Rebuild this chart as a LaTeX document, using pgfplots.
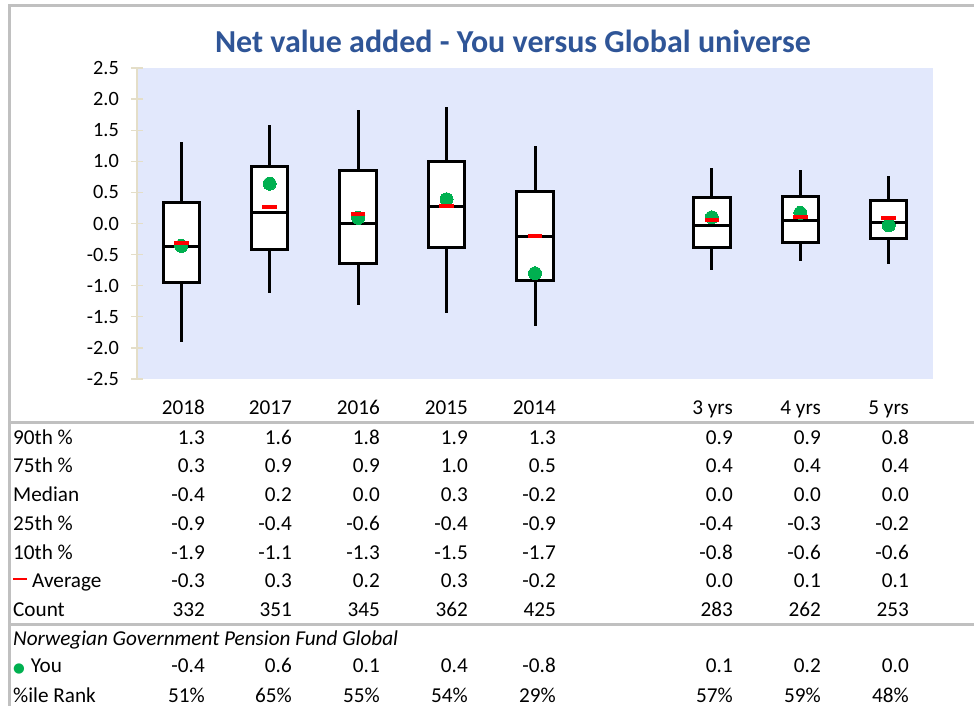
\documentclass[border=0pt]{standalone}
\usepackage{fontspec}
\setmainfont{Carlito}
\newfontfamily\dejavu{DejaVu Sans}
\usepackage{pgfplots}
\usepackage{pgfplotstable}
\usepgfplotslibrary{statistics}
\pgfplotsset{compat=1.18}

\definecolor{titleblue}{RGB}{47,85,151}
\definecolor{plotbg}{RGB}{226,232,252}
\definecolor{axbeige}{RGB}{228,222,200}
\definecolor{bordergray}{RGB}{192,192,192}
\definecolor{yougreen}{RGB}{0,176,80}

\pgfplotstableread{
pos avg you
0 -0.32 -0.36
1 0.27 0.64
2 0.16 0.09
3 0.28 0.39
4 -0.20 -0.80
6 0.05 0.10
7 0.11 0.17
8 0.09 -0.03
}\pointdata

% position, 10th, 25th, median, 75th, 90th
\newcommand{\boxplotitem}[7]{%
  \addplot[draw=black, #7, line width=3pt, line join=miter,
    boxplot prepared={draw position=#1, lower whisker=#2, lower quartile=#3,
      median=#4, upper quartile=#5, upper whisker=#6,
      box extend=0.41, whisker extend=0}] coordinates {};}

\newcommand{\allboxes}[1]{%
  \boxplotitem{0}{-1.91}{-0.95}{-0.37}{0.34}{1.31}{#1}
  \boxplotitem{1}{-1.12}{-0.41}{0.18}{0.92}{1.58}{#1}
  \boxplotitem{2}{-1.31}{-0.64}{0.00}{0.86}{1.82}{#1}
  \boxplotitem{3}{-1.44}{-0.38}{0.27}{1.00}{1.88}{#1}
  \boxplotitem{4}{-1.65}{-0.91}{-0.21}{0.51}{1.25}{#1}
  \boxplotitem{6}{-0.74}{-0.38}{-0.03}{0.42}{0.89}{#1}
  \boxplotitem{7}{-0.61}{-0.31}{0.05}{0.43}{0.86}{#1}
  \boxplotitem{8}{-0.65}{-0.24}{0.01}{0.37}{0.76}{#1}
}

\newcommand{\tf}{\fontsize{21.2}{25}\selectfont}

\begin{document}
\begin{tikzpicture}
\useasboundingbox (0pt,0pt) rectangle (974pt,-706pt);

% outer frame and table rules
\draw[bordergray, line width=3pt] (9.5pt,-706pt) -- (9.5pt,-6pt) -- (974pt,-6pt);
\draw[bordergray, line width=3pt] (9.5pt,-422.5pt) -- (974pt,-422.5pt);
\draw[bordergray, line width=3pt] (9.5pt,-624pt) -- (974pt,-624pt);

\begin{axis}[
  at={(137pt,-379pt)}, anchor=south west,
  scale only axis, width=796pt, height=311pt,
  xmin=-0.5, xmax=8.5, ymin=-2.5, ymax=2.5,
  boxplot/draw direction=y,
  axis background/.style={fill=plotbg},
  axis x line=none,
  axis y line*=left,
  axis line style={draw=axbeige, line width=2pt},
  xtick=\empty,
  ytick={-2.5,-2,-1.5,-1,-0.5,0,0.5,1,1.5,2,2.5},
  yticklabels={-2.5,-2.0,-1.5,-1.0,-0.5,0.0,0.5,1.0,1.5,2.0,2.5},
  major tick length=12pt, tick align=center,
  tick style={draw=axbeige, line width=1.3pt},
  yticklabel style={font=\fontsize{20.3}{24}\selectfont, inner sep=0pt, anchor=east},
  yticklabel shift=12pt,
]
\allboxes{fill=white}
\addplot[only marks, mark=*, mark size=6.5pt, color=yougreen, mark options={draw=yougreen, fill=yougreen, line width=0pt}]
  table[x=pos, y=you] {\pointdata};
\allboxes{fill=none}
\addplot[only marks, mark=-, mark size=7.3pt, color=red, mark options={line width=4pt}]
  table[x=pos, y=avg] {\pointdata};
\end{axis}

% title
\node[anchor=base, inner sep=0pt, text=titleblue, font=\fontsize{32}{38}\selectfont\bfseries]
  at (513pt,-53pt) {Net value added - You versus Global universe};

% header row
\foreach \xr/\v in {205/2018, 292/2017, 380/2016, 468/2015, 556/2014, 733/3 yrs, 821/4 yrs, 909/5 yrs}
  \node[anchor=base east, inner sep=0pt, font=\tf] at (\xr pt,-414.5pt) {\v};

% row labels
\node[anchor=base west, inner sep=0pt, font=\tf] at (13pt,-444pt) {90th \%};
\node[anchor=base west, inner sep=0pt, font=\tf] at (13pt,-472.5pt) {75th \%};
\node[anchor=base west, inner sep=0pt, font=\tf] at (13pt,-501.5pt) {Median};
\node[anchor=base west, inner sep=0pt, font=\tf] at (13pt,-530.5pt) {25th \%};
\node[anchor=base west, inner sep=0pt, font=\tf] at (13pt,-559pt) {10th \%};
\node[anchor=base west, inner sep=0pt, font=\tf] at (13pt,-587.3pt) {{\color{red}\rule[7pt]{14pt}{2.4pt}}\hspace{5pt}Average};
\node[anchor=base west, inner sep=0pt, font=\tf] at (13pt,-616.3pt) {Count};
\node[anchor=base west, inner sep=0pt, font=\tf\itshape] at (13pt,-645.5pt) {Norwegian Government Pension Fund Global};
\node[anchor=base west, inner sep=0pt, font=\tf] at (13pt,-672.8pt) {{\dejavu\fontsize{13.5}{14}\selectfont\textcolor{yougreen}{●}}\hspace{6pt}You};
\node[anchor=base west, inner sep=0pt, font=\tf] at (13pt,-702.5pt) {\%ile Rank};

% values
\foreach \xr/\v in {205/1.3, 292/1.6, 380/1.8, 468/1.9, 556/1.3, 733/0.9, 821/0.9, 909/0.8}
  \node[anchor=base east, inner sep=0pt, font=\tf] at (\xr pt,-444pt) {\v};
\foreach \xr/\v in {205/0.3, 292/0.9, 380/0.9, 468/1.0, 556/0.5, 733/0.4, 821/0.4, 909/0.4}
  \node[anchor=base east, inner sep=0pt, font=\tf] at (\xr pt,-472.5pt) {\v};
\foreach \xr/\v in {205/-0.4, 292/0.2, 380/0.0, 468/0.3, 556/-0.2, 733/0.0, 821/0.0, 909/0.0}
  \node[anchor=base east, inner sep=0pt, font=\tf] at (\xr pt,-501.5pt) {\v};
\foreach \xr/\v in {205/-0.9, 292/-0.4, 380/-0.6, 468/-0.4, 556/-0.9, 733/-0.4, 821/-0.3, 909/-0.2}
  \node[anchor=base east, inner sep=0pt, font=\tf] at (\xr pt,-530.5pt) {\v};
\foreach \xr/\v in {205/-1.9, 292/-1.1, 380/-1.3, 468/-1.5, 556/-1.7, 733/-0.8, 821/-0.6, 909/-0.6}
  \node[anchor=base east, inner sep=0pt, font=\tf] at (\xr pt,-559pt) {\v};
\foreach \xr/\v in {205/-0.3, 292/0.3, 380/0.2, 468/0.3, 556/-0.2, 733/0.0, 821/0.1, 909/0.1}
  \node[anchor=base east, inner sep=0pt, font=\tf] at (\xr pt,-587.3pt) {\v};
\foreach \xr/\v in {205/332, 292/351, 380/345, 468/362, 556/425, 733/283, 821/262, 909/253}
  \node[anchor=base east, inner sep=0pt, font=\tf] at (\xr pt,-616.3pt) {\v};
\foreach \xr/\v in {205/-0.4, 292/0.6, 380/0.1, 468/0.4, 556/-0.8, 733/0.1, 821/0.2, 909/0.0}
  \node[anchor=base east, inner sep=0pt, font=\tf] at (\xr pt,-672.8pt) {\v};
\foreach \xr/\v in {205/51\%, 292/65\%, 380/55\%, 468/54\%, 556/29\%, 733/57\%, 821/59\%, 909/48\%}
  \node[anchor=base east, inner sep=0pt, font=\tf] at (\xr pt,-702.5pt) {\v};
\end{tikzpicture}
\end{document}
